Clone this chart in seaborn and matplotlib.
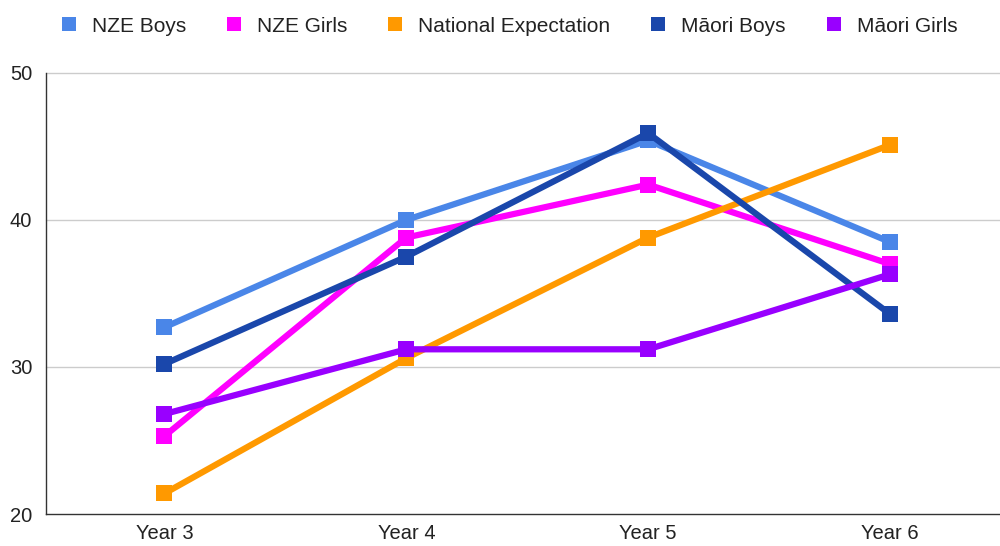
import matplotlib
matplotlib.use("Agg")
import matplotlib.pyplot as plt
from matplotlib.lines import Line2D
import pandas as pd
import seaborn as sns

years = ["Year 3", "Year 4", "Year 5", "Year 6"]
nze_boys = [32.7, 40.0, 45.4, 38.5]
nze_girls = [25.3, 38.8, 42.4, 37.0]
national = [21.4, 30.6, 38.8, 45.1]
maori_boys = [30.2, 37.5, 45.9, 33.6]
maori_girls = [26.8, 31.2, 31.2, 36.3]

series = ["NZE Boys", "NZE Girls", "National Expectation", "Māori Boys", "Māori Girls"]
colors = ["#4a86e8", "#ff00ff", "#ff9900", "#1a47ab", "#9900ff"]

rows = []
for name, vals in zip(series, [nze_boys, nze_girls, national, maori_boys, maori_girls]):
    for i, v in enumerate(vals):
        rows.append({"pos": i, "year": years[i], "value": v, "series": name})
df = pd.DataFrame(rows)

sns.set_style("white")
plt.rcParams["font.family"] = ["Liberation Sans", "DejaVu Sans"]

fig = plt.figure(figsize=(10, 5.46), dpi=100)
ax = fig.add_axes([0.046, 0.0586, 0.954, 0.808])

sns.lineplot(data=df, x="pos", y="value", hue="series", hue_order=series,
             palette=colors, marker="s", markersize=11, markeredgewidth=0,
             linewidth=4.5, dashes=False, legend=False, ax=ax)

ax.set_xlim(-0.49, 3.455)
ax.set_ylim(20, 50)
ax.set_xticks(range(len(years)))
ax.set_xticklabels(years)
ax.set_yticks([20, 30, 40, 50])
ax.set_xlabel("")
ax.set_ylabel("")
ax.tick_params(axis="both", length=0, labelsize=14.5, colors="#222222")
ax.tick_params(axis="y", pad=10)
ax.tick_params(axis="x", pad=7)
for y in [30, 40, 50]:
    ax.axhline(y, color="#cccccc", linewidth=1, zorder=0, clip_on=False)
for s in ["top", "right"]:
    ax.spines[s].set_visible(False)
ax.spines["left"].set_color("#333333")
ax.spines["bottom"].set_color("#333333")
ax.spines["left"].set_linewidth(1)
ax.spines["bottom"].set_linewidth(1)

handles = [Line2D([], [], linestyle="none", marker="s", markersize=10,
                  markerfacecolor=c, markeredgewidth=0) for c in colors]
fig.legend(handles, series, loc="center", bbox_to_anchor=(0.507, 0.952), ncol=5,
           frameon=False, fontsize=15, handletextpad=0.5, columnspacing=1.7,
           handlelength=1.2, labelcolor="#222222")

fig.savefig("out.png", dpi=100)
